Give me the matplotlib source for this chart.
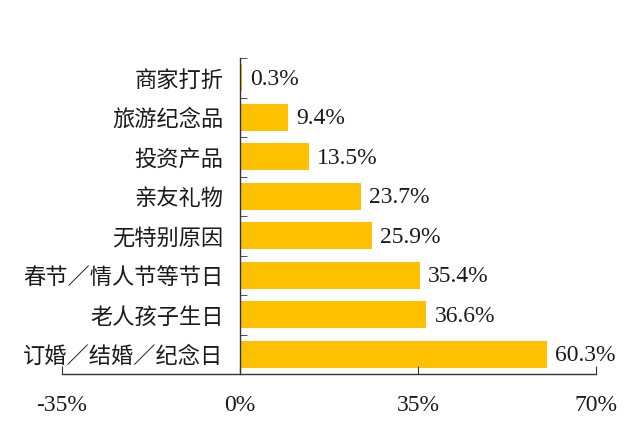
import matplotlib.pyplot as plt
import numpy as np

plt.rcParams["font.family"] = ["Liberation Serif", "Noto Sans CJK SC"]

categories = [
    "商家打折",
    "旅游纪念品",
    "投资产品",
    "亲友礼物",
    "无特别原因",
    "春节／情人节等节日",
    "老人孩子生日",
    "订婚／结婚／纪念日",
]
values = [0.3, 9.4, 13.5, 23.7, 25.9, 35.4, 36.6, 60.3]
x_ticks = [-35, 0, 35, 70]
x_tick_labels = ["-35%", "0%", "35%", "70%"]

BAR_COLOR = "#FFC000"
TEXT_COLOR = "#1a1a1a"

fig = plt.figure(figsize=(6.42, 4.47), dpi=100)
ax = fig.add_axes([62 / 642, 1 - 374 / 447, (596 - 62) / 642, (374 - 58) / 447])

y = np.arange(len(categories))
ax.barh(y, values, height=0.68, color=BAR_COLOR)

for yi, v in zip(y, values):
    ax.annotate(f"{v}%", (v, yi), xytext=(6, -1), textcoords="offset points",
                va="center", ha="left", fontsize=17, color=TEXT_COLOR)

ax.set_xlim(-35, 70)
ax.set_ylim(len(categories) - 0.5, -0.5)

ax.spines["top"].set_visible(False)
ax.spines["right"].set_visible(False)
ax.spines["left"].set_position(("data", 0))
for s in ("left", "bottom"):
    ax.spines[s].set_color("#333333")
    ax.spines[s].set_linewidth(1.0)

ax.set_xticks(x_ticks)
ax.set_xticklabels(x_tick_labels, fontsize=17, color=TEXT_COLOR)
ax.tick_params(axis="x", direction="in", length=6, pad=15, color="#333333")

ax.set_yticks(y)
ax.set_yticklabels(categories, fontsize=16, color=TEXT_COLOR,
                   family=["Noto Sans CJK SC", "DejaVu Sans"])
ax.tick_params(axis="y", which="major", length=0, pad=12)
ax.set_yticks(np.arange(-0.5, len(categories), 1.0), minor=True)
ax.tick_params(axis="y", which="minor", direction="in", length=5, color="#333333")

fig.savefig("out.png", dpi=100)
